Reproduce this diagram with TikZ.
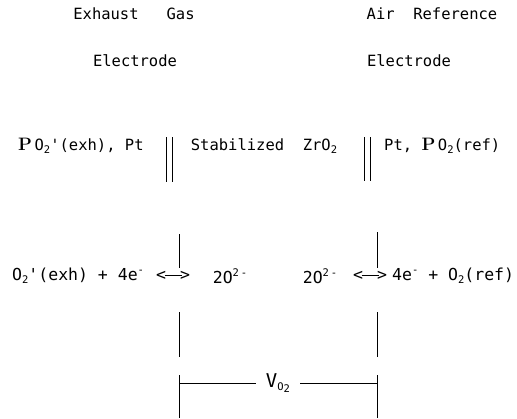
\documentclass[tikz,border=0pt]{standalone}
\usepackage{fontspec}
\setmonofont{DejaVu Sans Mono}
\usepackage{tikz}
\tikzset{
  lbl/.style={font=\ttfamily\fontsize{15.5}{18}\selectfont, inner sep=0pt},
  rx/.style={font=\ttfamily\fontsize{16.5}{18}\selectfont, inner sep=0pt},
  wire/.style={line width=0.8pt},
  vlbl/.style={lbl, inner xsep=10pt, inner ysep=0pt}
}
\newcommand{\dnidx}[1]{\raisebox{-0.35ex}{\fontsize{10.5}{10}\selectfont #1}}
\newcommand{\upidx}[1]{\raisebox{0.75ex}{\fontsize{10.5}{10}\selectfont #1}}
\newcommand{\bigP}{{\rmfamily\bfseries\fontsize{18}{18}\selectfont P}}
\newcommand{\eqarr}{<\kern-1.5pt\raisebox{0.3em}{\rule{17pt}{0.9pt}}\kern-1.5pt>}

\begin{document}
\begin{tikzpicture}[x=1pt,y=-1pt]
\useasboundingbox (0,0) rectangle (517,418);
% electrode headings
\node[lbl] (exh) at (134,14) {Exhaust\ \ \ Gas};
\node[lbl] (air) at (432,14) {Air\ \ Reference};
\node[lbl] (elL) at (135,61) {Electrode};
\node[lbl] (elR) at (409,61) {Electrode};
% cell row
\node[lbl, anchor=west] (pexh) at (18,146) {\bigP\,O\dnidx{2}'(exh),~Pt};
\node[lbl] (zro) at (264,146) {Stabilized\ \ ZrO\dnidx{2}};
\node[lbl, anchor=west] (pref) at (384,146) {Pt,~\bigP\,O\dnidx{2}(ref)};
\draw[wire] (166,137) coordinate (d1) -- (166,182);
\draw[wire] (172,137) coordinate (d2) -- (172,182);
\draw[wire] (364,137) coordinate (d3) -- (364,181);
\draw[wire] (370,137) coordinate (d4) -- (370,181);
% electrode reactions
\node[rx, anchor=west] (rxL) at (12,276) {O\dnidx{2}'(exh)~+~4e\upidx{-}};
\node[rx] (arL) at (173,276) {\eqarr};
\node[rx] (ionL) at (230,276) {2O\upidx{2\,-}};
\node[rx] (ionR) at (320,276) {2O\upidx{2\,-}};
\node[rx] (arR) at (370,276) {\eqarr};
\node[rx, anchor=west] (rxR) at (392,276) {4e\upidx{-}~+~O\dnidx{2}(ref)};
% electrode lines
\coordinate (la1) at (179,234); \coordinate (la2) at (179,268);
\coordinate (lb1) at (179,312); \coordinate (lb2) at (179,357);
\coordinate (lc1) at (179,375); \coordinate (lc2) at (179,418);
\coordinate (ra1) at (377,232); \coordinate (ra2) at (377,268);
\coordinate (rb1) at (377,312); \coordinate (rb2) at (377,357);
\coordinate (rc1) at (377,375); \coordinate (rc2) at (377,418);
\draw[wire] (la1) -- (la2); \draw[wire] (lb1) -- (lb2); \draw[wire] (lc1) -- (lc2);
\draw[wire] (ra1) -- (ra2); \draw[wire] (rb1) -- (rb2); \draw[wire] (rc1) -- (rc2);
% sensor voltage
\node[vlbl] (vo) at (278,383) {{\fontsize{19}{19}\selectfont V}\dnidx{O\dnidx{2}}};
\coordinate (lt) at (179,383); \coordinate (rt) at (377,383);
\draw[wire] (lt) -- (vo.west);
\draw[wire] (vo.east) -- (rt);
\end{tikzpicture}
\end{document}
